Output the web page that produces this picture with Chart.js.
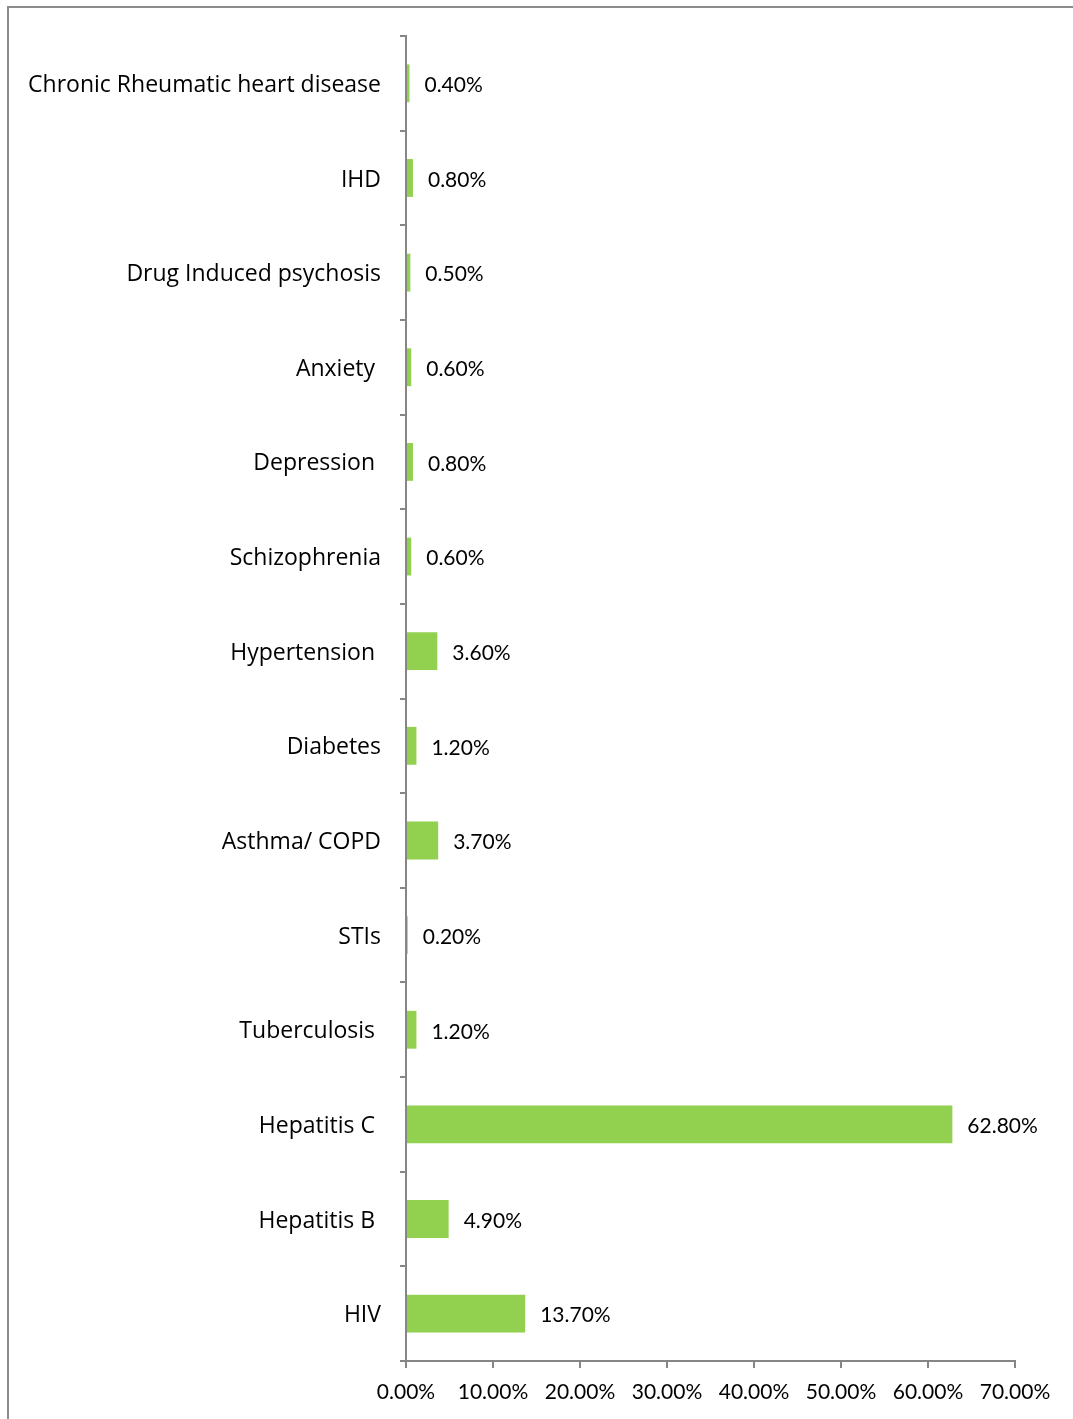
<!DOCTYPE html>
<html>
<head>
<meta charset="utf-8">
<script src="https://cdn.jsdelivr.net/npm/chart.js@4"></script>
<style>
  html, body { margin: 0; padding: 0; background: #fff; overflow: hidden; }
  #wrap { position: relative; width: 1073px; height: 1419px; }
  #frame { position: absolute; left: 7px; top: 6px; width: 1200px; height: 1500px; border: 2px solid #8c8c8c; box-sizing: border-box; }
  #grafico { position: absolute; left: 0; top: 0; }
</style>
</head>
<body>
<div id="wrap">
  <div id="frame"></div>
  <canvas id="grafico" width="1073" height="1419"></canvas>
</div>
<script>
const categorie = ['Chronic Rheumatic heart disease', 'IHD', 'Drug Induced psychosis', 'Anxiety ', 'Depression ',
  'Schizophrenia', 'Hypertension ', 'Diabetes', 'Asthma/ COPD', 'STIs', 'Tuberculosis ', 'Hepatitis C ',
  'Hepatitis B ', 'HIV'];
const valori = [0.4, 0.8, 0.5, 0.6, 0.8, 0.6, 3.6, 1.2, 3.7, 0.2, 1.2, 62.8, 4.9, 13.7];
const tickX = [0, 10, 20, 30, 40, 50, 60, 70];

const grigio = '#868686';
const fontNum = { family: 'Lato', size: 21 };
const fontCat = { family: 'Open Sans', size: 23 };

// etichette dei valori a destra delle barre
const etichette = {
  id: 'etichette',
  afterDatasetsDraw(chart) {
    const c = chart.ctx;
    const meta = chart.getDatasetMeta(0);
    c.save();
    c.font = fontNum.size + 'px ' + fontNum.family;
    c.fillStyle = '#000';
    c.textAlign = 'left';
    c.textBaseline = 'middle';
    meta.data.forEach((bar, i) => {
      c.fillText(valori[i].toFixed(2) + '%', bar.x + 15, bar.y + 2);
    });
    c.restore();
  }
};

const ctx = document.getElementById('grafico').getContext('2d');

new Chart(ctx, {
  type: 'bar',
  data: {
    labels: categorie,
    datasets: [{
      data: valori,
      backgroundColor: '#92D050',
      borderWidth: 0,
      barPercentage: 0.4,
      categoryPercentage: 1
    }]
  },
  options: {
    indexAxis: 'y',
    responsive: false,
    animation: false,
    layout: { padding: { top: 36, right: 58, left: 0, bottom: 0 } },
    plugins: {
      legend: { display: false },
      tooltip: { enabled: false }
    },
    scales: {
      y: {
        afterFit: s => { s.width = 406; },
        grid: { drawOnChartArea: false, tickLength: 6, color: grigio, lineWidth: 2 },
        border: { color: grigio, width: 2 },
        ticks: { color: '#000', font: fontCat, padding: 19, labelOffset: 2 }
      },
      x: {
        min: 0,
        max: 70,
        afterBuildTicks: s => { s.ticks = tickX.map(v => ({ value: v })); },
        afterFit: s => { s.height = 58; },
        grid: { drawOnChartArea: false, tickLength: 7, color: grigio, lineWidth: 2 },
        border: { color: grigio, width: 2 },
        ticks: { color: '#000', font: fontNum, padding: 12, maxRotation: 0, callback: v => v.toFixed(2) + '%' }
      }
    }
  },
  plugins: [etichette]
});
</script>
</body>
</html>
